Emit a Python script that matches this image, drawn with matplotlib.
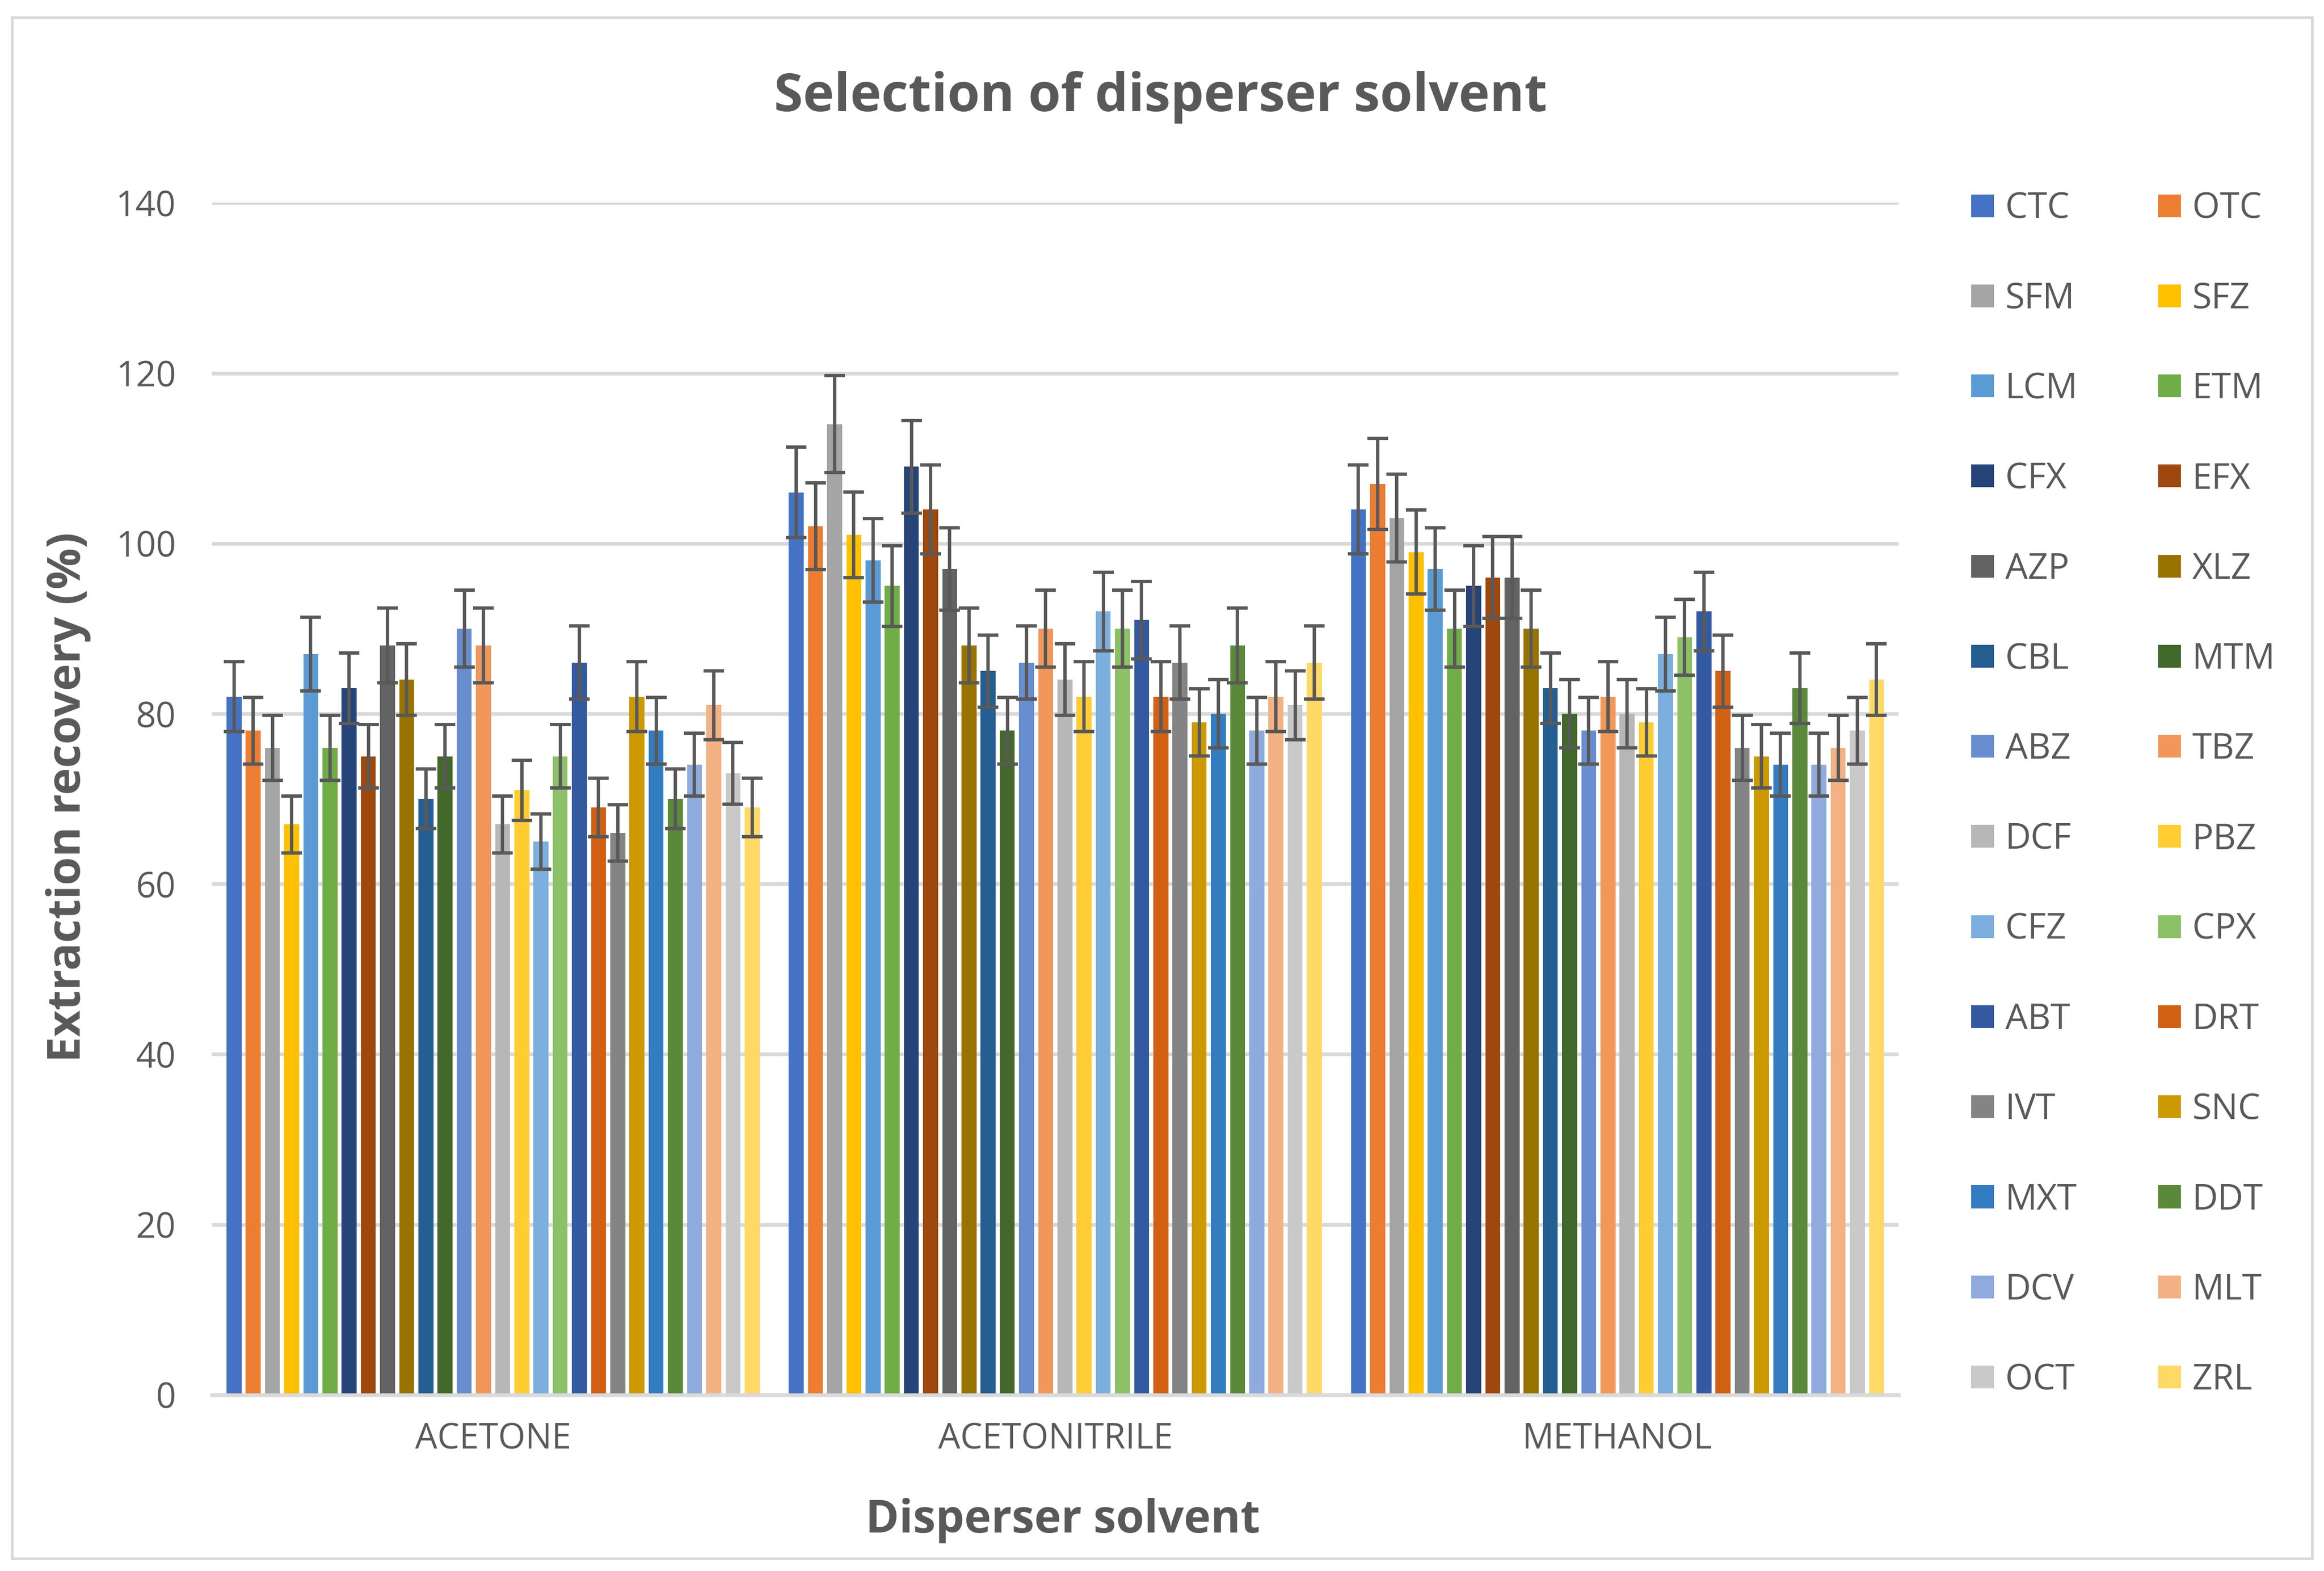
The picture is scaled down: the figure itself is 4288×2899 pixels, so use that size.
import numpy as np
import matplotlib
matplotlib.use("Agg")
import matplotlib.pyplot as plt
from matplotlib.patches import Rectangle

plt.rcParams['font.family'] = ['Open Sans', 'DejaVu Sans']

solvents = ['ACETONE', 'ACETONITRILE', 'METHANOL']
analytes = ['CTC', 'OTC', 'SFM', 'SFZ', 'LCM', 'ETM', 'CFX', 'EFX', 'AZP', 'XLZ',
            'CBL', 'MTM', 'ABZ', 'TBZ', 'DCF', 'PBZ', 'CFZ', 'CPX', 'ABT', 'DRT',
            'IVT', 'SNC', 'MXT', 'DDT', 'DCV', 'MLT', 'OCT', 'ZRL']

# extraction recovery (%) per solvent, same order as analytes
acetone = [82, 78, 76, 67, 87, 76, 83, 75, 88, 84, 70, 75, 90, 88, 67, 71, 65, 75,
           86, 69, 66, 82, 78, 70, 74, 81, 73, 69]
acetonitrile = [106, 102, 114, 101, 98, 95, 109, 104, 97, 88, 85, 78, 86, 90, 84, 82,
                92, 90, 91, 82, 86, 79, 80, 88, 78, 82, 81, 86]
methanol = [104, 107, 103, 99, 97, 90, 95, 96, 96, 90, 83, 80, 78, 82, 80, 79, 87, 89,
            92, 85, 76, 75, 74, 83, 74, 76, 78, 84]

err_pct = 5  # error bars: percentage of value

colors = ['#4472C4', '#ED7D31', '#A5A5A5', '#FFC000', '#5B9BD5', '#70AD47',
          '#264478', '#9E480E', '#636363', '#997300', '#255E91', '#43682B',
          '#698ED0', '#F1975A', '#B7B7B7', '#FFCD33', '#7CAFDD', '#8CC168',
          '#335AA1', '#D26012', '#848484', '#CC9A00', '#327DC2', '#5A8A39',
          '#8FAADC', '#F4B183', '#C9C9C9', '#FFD966']

txt = '#595959'
grid = '#D9D9D9'

W, H = 4288, 2899
fig = plt.figure(figsize=(W / 300, H / 300), dpi=300)
# display px (1568 wide reference) -> figure fraction
DW, DH = 1568.0, 1060.1
def fx(px):
    return px / DW
def fy(py):
    return 1 - py / DH

ax = fig.add_axes([fx(143), fy(941.2), fx(1281) - fx(143), fy(136.9) - fy(941.2)])

data = np.array([acetone, acetonitrile, methanol])
x = np.arange(len(solvents))
n = len(analytes)
pitch = 0.03413
width = 0.0266
for j in range(n):
    vals = data[:, j]
    pos = x + (j - (n - 1) / 2) * pitch
    ax.bar(pos, vals, width, color=colors[j], zorder=2)
    ax.errorbar(pos, vals, yerr=vals * err_pct / 100, fmt='none', ecolor=txt,
                elinewidth=1.5, capsize=4.6, capthick=1.5, zorder=3)

ax.set_xlim(-0.5, 2.5)
ax.set_ylim(0, 140)
ax.set_yticks(np.arange(0, 141, 20))
ax.set_xticks(x)
ax.set_xticklabels(solvents)
ax.yaxis.grid(True, color=grid, lw=1.6, zorder=0)
ax.set_axisbelow(True)
for s in ['top', 'right', 'left']:
    ax.spines[s].set_visible(False)
ax.spines['bottom'].set_color(grid)
ax.spines['bottom'].set_linewidth(1.6)
ax.tick_params(axis='both', length=0, colors=txt, labelsize=15.5)
ax.tick_params(axis='y', pad=16)
ax.tick_params(axis='x', pad=12)

fig.text(fx(783), fy(75), 'Selection of disperser solvent', ha='center', va='baseline',
         fontsize=23.3, fontweight='bold', color=txt)
fig.text(fx(717), fy(1034), 'Disperser solvent', ha='center', va='baseline',
         fontsize=20.1, fontweight='bold', color=txt)
fig.text(fx(46), fy(538), 'Extraction recovery (%)', ha='center', va='center',
         rotation=90, fontsize=20.3, fontweight='bold', color=txt)

# legend, two columns filled row by row
sq = 15.4
for k, name in enumerate(analytes):
    row, col = k // 2, k % 2
    cy = 138.8 + row * 60.8
    sx = 1330 if col == 0 else 1456
    tx = 1353 if col == 0 else 1479
    fig.add_artist(Rectangle((fx(sx), fy(cy + sq / 2)), fx(sq), fy(0) - fy(sq),
                             transform=fig.transFigure, color=colors[k], lw=0))
    fig.text(fx(tx), fy(cy + 8.5), name, ha='left', va='baseline', fontsize=15.7,
             color=txt)

# chart border
fig.add_artist(Rectangle((fx(8), fy(1051.6)), fx(1560) - fx(8), fy(11.6) - fy(1051.6),
                         transform=fig.transFigure, fill=False, edgecolor=grid, lw=1.2))

fig.savefig('out.png', dpi=300, facecolor='white')
